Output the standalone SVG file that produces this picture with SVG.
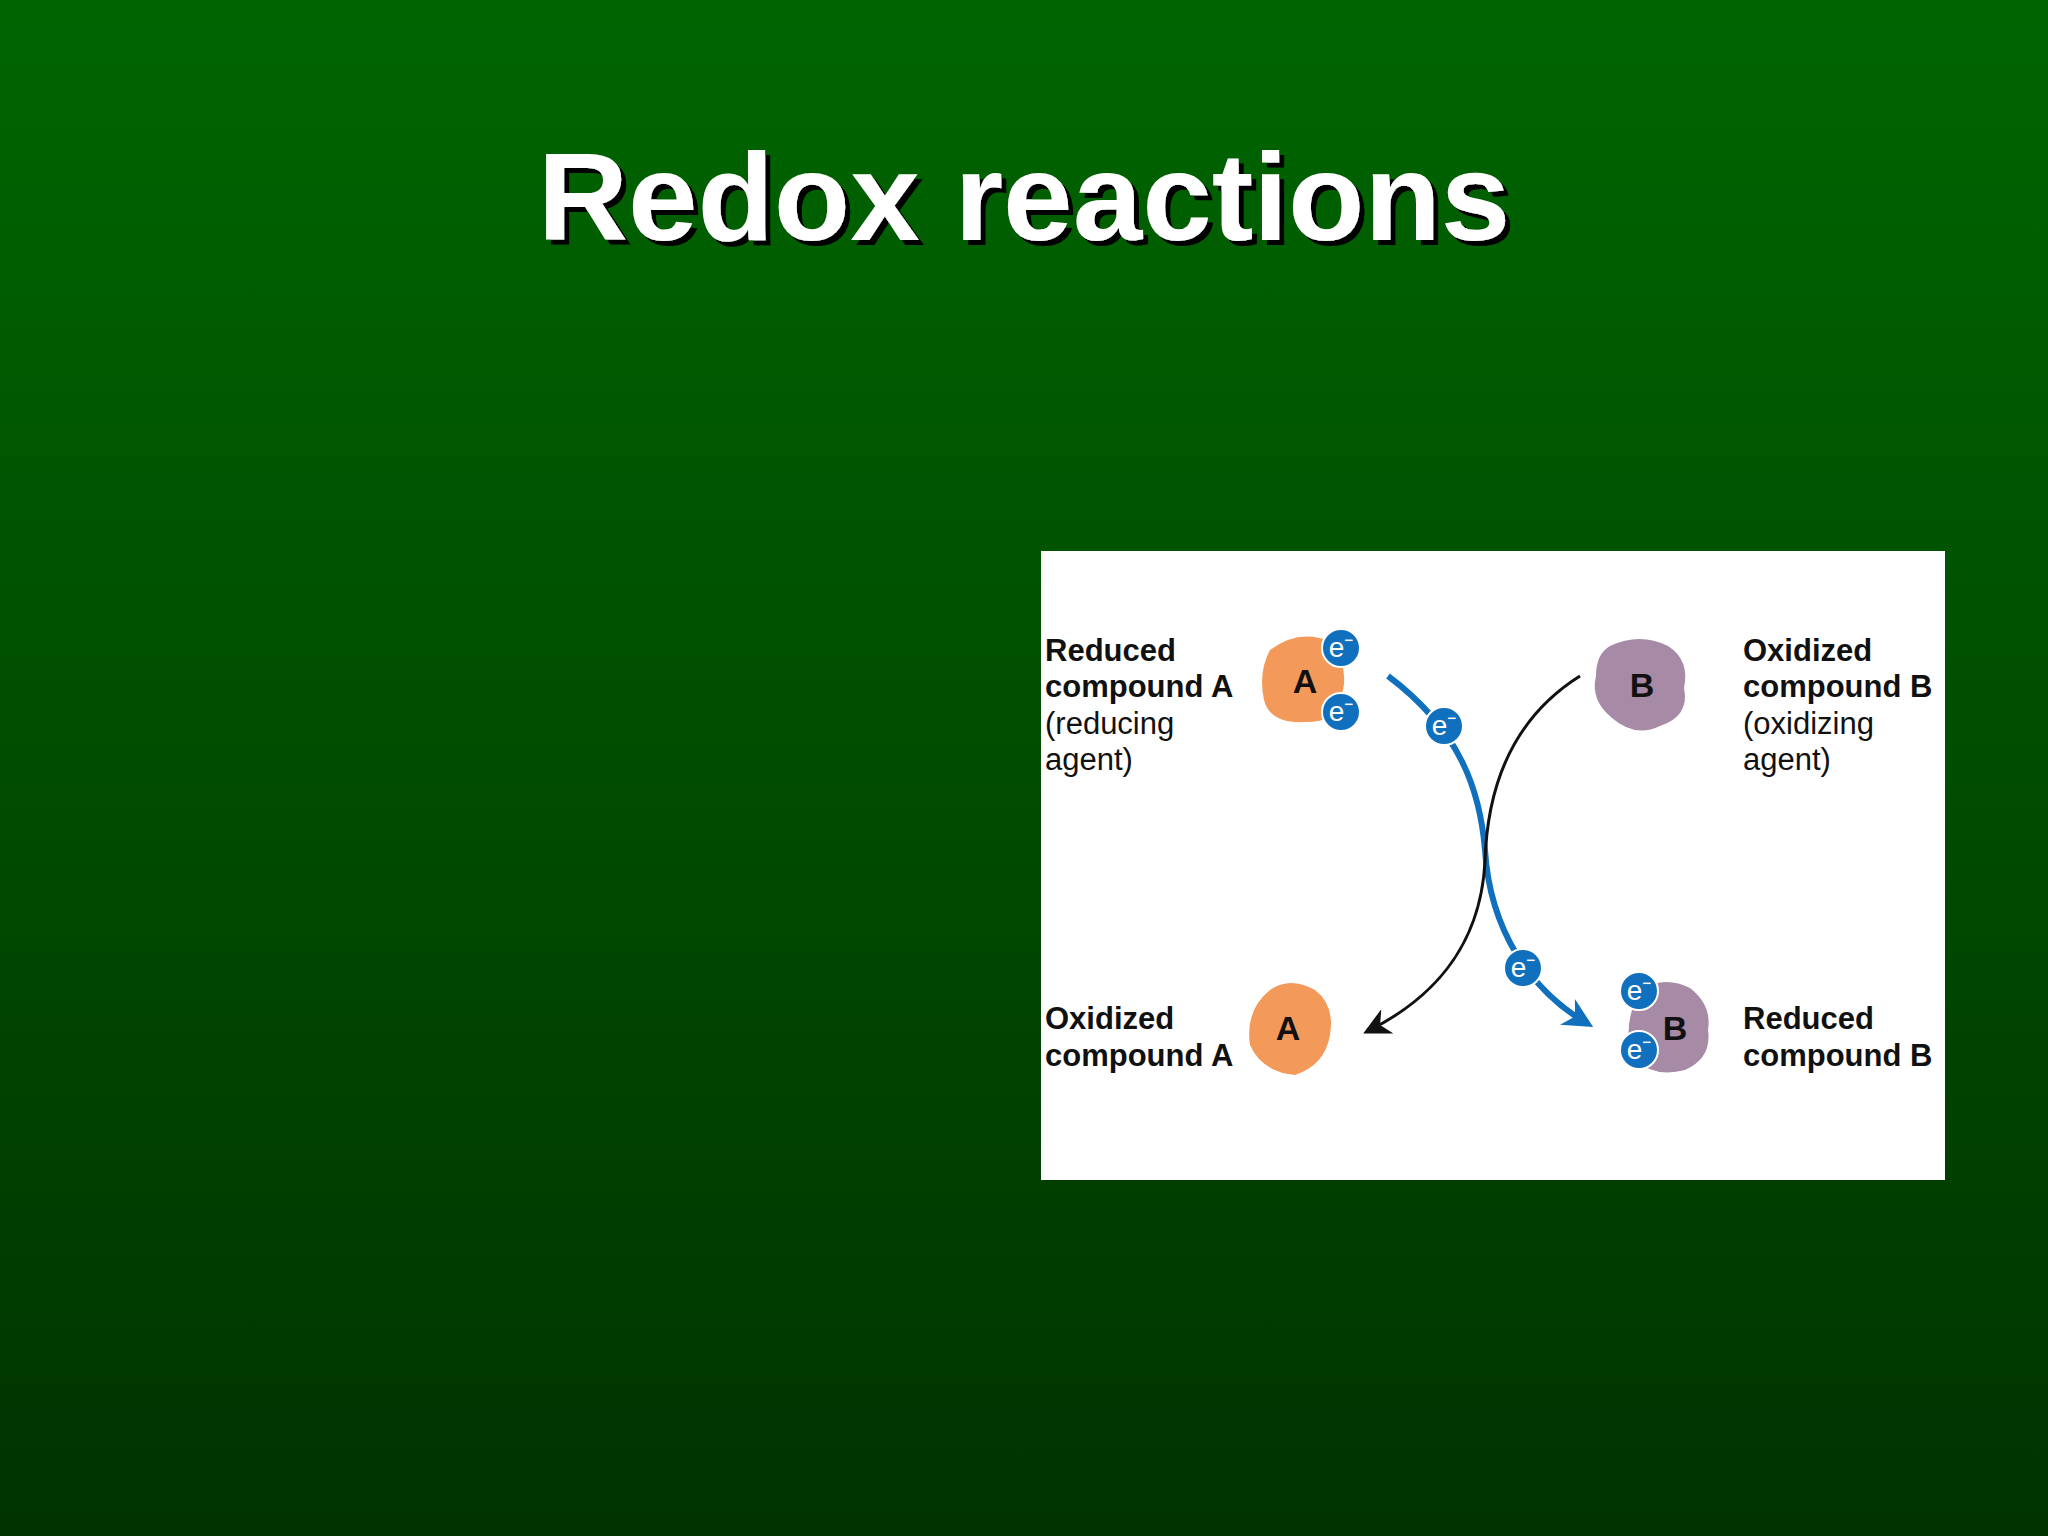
<svg xmlns="http://www.w3.org/2000/svg" width="2048" height="1536" viewBox="0 0 2048 1536">
<defs>
<linearGradient id="bg" x1="0" y1="0" x2="0" y2="1"><stop offset="0" stop-color="#006600"/><stop offset="1" stop-color="#003300"/></linearGradient>
<filter id="sh" x="-5%" y="-20%" width="110%" height="140%"><feDropShadow dx="5" dy="5" stdDeviation="0" flood-color="#000"/></filter>
<marker id="ab" viewBox="0 0 10 10" refX="8" refY="5" markerWidth="5" markerHeight="5" orient="auto"><path d="M0,0 L10,5 L0,10 L3,5 z" fill="#1170bd"/></marker>
<marker id="ak" viewBox="0 0 10 10" refX="8" refY="5" markerWidth="9" markerHeight="9" orient="auto"><path d="M0,0 L10,5 L0,10 L3,5 z" fill="#111"/></marker>
<style>
.t{font-family:"Liberation Sans",Arial,sans-serif;font-size:31px;fill:#111}
.b{font-weight:bold}
.e{fill:#1170bd;stroke:#fff;stroke-width:2}
.et{font-family:"Liberation Sans",Arial,sans-serif;font-size:28px;fill:#fff;text-anchor:middle}
.L{font-family:"Liberation Sans",Arial,sans-serif;font-size:34px;font-weight:bold;fill:#111;text-anchor:middle}
</style>
</defs>
<rect width="2048" height="1536" fill="url(#bg)"/>
<text x="1024" y="240" text-anchor="middle" font-family="Liberation Sans,Arial,sans-serif" font-weight="bold" font-size="125" fill="#fff" filter="url(#sh)">Redox reactions</text>
<rect x="1041" y="551" width="904" height="629" fill="#fff"/>
<g id="connectors">
<path d="M1388,676 C1460,730 1480,790 1485,850 C1490,930 1530,990 1588,1024" fill="none" stroke="#1170bd" stroke-width="6" marker-end="url(#ab)"/>
<path d="M1580,676 C1510,720 1487,790 1485,862 C1480,950 1430,1000 1368,1031" fill="none" stroke="#111" stroke-width="3" marker-end="url(#ak)"/>
<g id="e-mid1"><circle class="e" cx="1444" cy="726" r="19"/><text class="et" x="1444" y="735">e⁻</text></g>
<g id="e-mid2"><circle class="e" cx="1523" cy="968" r="19"/><text class="et" x="1523" y="977">e⁻</text></g>
</g>
<g id="redA">
<path d="M1270,650 Q1300,628 1330,642 Q1352,670 1340,700 Q1338,722 1305,722 Q1270,724 1264,700 Q1258,672 1270,650 z" fill="#f39a5a"/>
<text class="L" x="1305" y="693">A</text>
<circle class="e" cx="1341" cy="648" r="19"/><text class="et" x="1341" y="657">e⁻</text>
<circle class="e" cx="1341" cy="712" r="19"/><text class="et" x="1341" y="721">e⁻</text>
<text class="t b" x="1045" y="661">Reduced</text><text class="t b" x="1045" y="697">compound A</text>
<text class="t" x="1045" y="734">(reducing</text><text class="t" x="1045" y="770">agent)</text>
</g>
<g id="oxB">
<path d="M1610,646 Q1640,632 1668,646 Q1690,660 1684,688 Q1690,716 1660,726 Q1635,738 1612,718 Q1590,700 1596,676 Q1596,654 1610,646 z" fill="#a78aa6"/>
<text class="L" x="1642" y="697">B</text>
<text class="t b" x="1743" y="661">Oxidized</text><text class="t b" x="1743" y="697">compound B</text>
<text class="t" x="1743" y="734">(oxidizing</text><text class="t" x="1743" y="770">agent)</text>
</g>
<g id="oxA">
<path d="M1270,990 Q1290,976 1315,990 Q1335,1005 1330,1035 Q1325,1065 1295,1075 Q1262,1072 1250,1045 Q1245,1010 1270,990 z" fill="#f39a5a"/>
<text class="L" x="1288" y="1040">A</text>
<text class="t b" x="1045" y="1029">Oxidized</text><text class="t b" x="1045" y="1066">compound A</text>
</g>
<g id="redB">
<path d="M1640,990 Q1665,975 1690,988 Q1712,1005 1708,1030 Q1712,1058 1685,1070 Q1655,1078 1635,1060 Q1620,1030 1640,990 z" fill="#a78aa6"/>
<text class="L" x="1675" y="1040">B</text>
<circle class="e" cx="1639" cy="991" r="19"/><text class="et" x="1639" y="1000">e⁻</text>
<circle class="e" cx="1639" cy="1050" r="19"/><text class="et" x="1639" y="1059">e⁻</text>
<text class="t b" x="1743" y="1029">Reduced</text><text class="t b" x="1743" y="1066">compound B</text>
</g>
</svg>
